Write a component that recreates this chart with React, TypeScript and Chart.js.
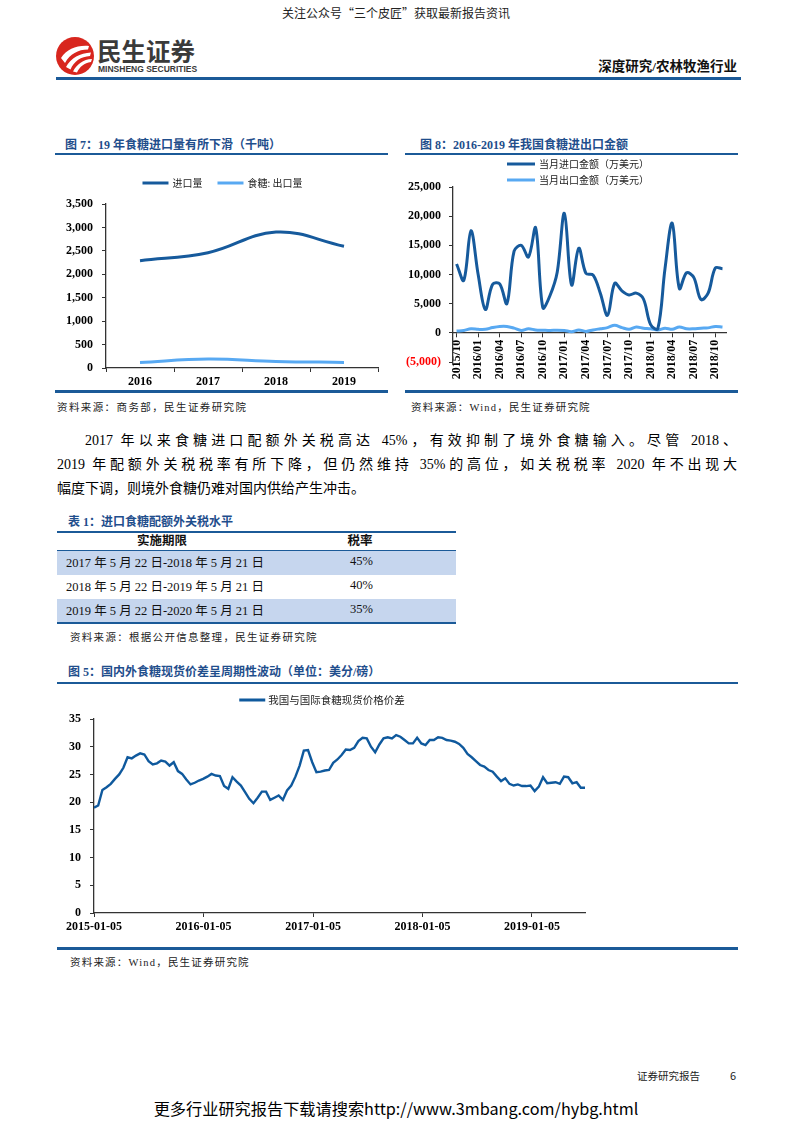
import React, { useEffect, useRef } from "react";
import { Chart, registerables } from "chart.js";

Chart.register(...registerables);

const SERIF = '"Liberation Serif", "Times New Roman", "Noto Sans CJK SC", serif';
const SANS = '"Noto Sans CJK SC", "Liberation Sans", sans-serif';
const CJK = '"Noto Sans CJK SC", sans-serif';

const RULE_BLUE = "#1b5a98";
const TITLE_BLUE = "#1f4e8c";
const DARK_LINE = "#165a9c";
const LIGHT_LINE = "#58a9f2";
const AXIS = "#333333";

// ---------- Figure 7 ----------
const fig7Years = ["2016", "2017", "2018", "2019"];
const fig7Import = [2290, 2460, 2900, 2600];
const fig7Export = [120, 190, 140, 120];

// ---------- Figure 8 ----------
const fig8Months = [
  "2015/10", "2015/11", "2015/12",
  "2016/01", "2016/02", "2016/03", "2016/04", "2016/05", "2016/06",
  "2016/07", "2016/08", "2016/09", "2016/10", "2016/11", "2016/12",
  "2017/01", "2017/02", "2017/03", "2017/04", "2017/05", "2017/06",
  "2017/07", "2017/08", "2017/09", "2017/10", "2017/11", "2017/12",
  "2018/01", "2018/02", "2018/03", "2018/04", "2018/05", "2018/06",
  "2018/07", "2018/08", "2018/09", "2018/10", "2018/11",
];
const fig8Import = [
  11800, 9000, 17500, 10000, 4000, 8300, 8400, 5000, 14000, 15000,
  13000, 18000, 4300, 6400, 10400, 20500, 8200, 14500, 10200, 9900,
  6800, 3000, 8500, 7200, 6500, 6800, 5800, 1400, 700, 11000,
  18800, 7600, 10300, 9500, 5700, 6800, 11100, 11000,
];
const fig8Export = [
  300, 400, 700, 600, 600, 900, 1100, 1100, 800, 400,
  700, 500, 450, 400, 450, 400, 200, 500, 250, 500,
  700, 900, 1300, 900, 600, 1000, 800, 700, 500, 800,
  600, 1000, 700, 700, 800, 850, 1100, 1000,
];

// ---------- Figure 5 ----------
const fig5Start = "2015-01-05";
const fig5StepDays = 14;
const fig5TickDates = ["2015-01-05", "2016-01-05", "2017-01-05", "2018-01-05", "2019-01-05"];
const fig5Values = [
  19.0, 19.4, 22.2, 22.7, 23.3, 24.2, 25.0, 26.2, 28.1, 27.9,
  28.4, 28.8, 28.6, 27.4, 26.8, 27.0, 27.5, 27.3, 26.6, 27.2,
  25.6, 25.1, 24.1, 23.2, 23.5, 23.9, 24.2, 24.6, 25.1, 24.8,
  24.7, 22.9, 22.4, 24.5, 23.7, 23.0, 21.8, 20.6, 19.8, 20.8,
  21.9, 21.9, 20.4, 20.8, 21.2, 20.4, 22.1, 23.0, 24.6, 26.6,
  29.3, 29.4, 27.2, 25.4, 25.5, 25.7, 25.8, 27.1, 27.7, 28.5,
  29.5, 29.4, 29.8, 31.0, 31.6, 31.5, 30.0, 29.0, 30.4, 31.5,
  31.7, 31.5, 32.1, 31.8, 31.2, 30.6, 30.6, 31.6, 30.6, 30.3,
  31.2, 31.2, 31.7, 31.6, 31.2, 31.1, 30.9, 30.5, 29.8, 28.7,
  28.1, 27.4, 26.7, 26.4, 25.8, 25.5, 24.6, 23.8, 24.3, 23.3,
  23.0, 23.2, 22.9, 22.9, 23.0, 22.0, 22.8, 24.5, 23.4, 23.5,
  23.6, 23.3, 24.6, 24.5, 23.4, 23.6, 22.6, 22.6,
];

// ---------- Table 1 ----------
const tableHeader = ["实施期限", "税率"];
const tablePeriods = [
  "2017 年 5 月 22 日-2018 年 5 月 21 日",
  "2018 年 5 月 22 日-2019 年 5 月 21 日",
  "2019 年 5 月 22 日-2020 年 5 月 21 日",
];
const tableRates = ["45%", "40%", "35%"];

const dayOf = (s: string) => {
  const [y, m, d] = s.split("-").map(Number);
  const [y0, m0, d0] = fig5Start.split("-").map(Number);
  return Math.round((Date.UTC(y, m - 1, d) - Date.UTC(y0, m0 - 1, d0)) / 86400000);
};
const fig5TickDays = fig5TickDates.map(dayOf);

const fmt = (v: number) => Number(v).toLocaleString("en-US");

const tickFont = { family: SERIF, size: 12, weight: "bold" as const };

// custom legend: short line sample + label, drawn on the chart canvas
const lineLegend = {
  id: "lineLegend",
  afterDraw(chart: any, _args: any, opts: any) {
    if (!opts || opts.y === undefined) return;
    const ctx = chart.ctx;
    const dss = chart.data.datasets;
    ctx.save();
    ctx.font = opts.font;
    ctx.textBaseline = "middle";
    ctx.textAlign = "left";
    const sw = opts.sample;
    const gap = opts.gap;
    const drawItem = (ds: any, x: number, y: number) => {
      ctx.strokeStyle = ds.borderColor;
      ctx.lineWidth = opts.lineWidth;
      ctx.lineCap = "butt";
      ctx.beginPath();
      ctx.moveTo(x, y);
      ctx.lineTo(x + sw, y);
      ctx.stroke();
      ctx.fillStyle = opts.color;
      ctx.fillText(ds.label, x + sw + gap, y + 0.5);
    };
    if (opts.column) {
      dss.forEach((ds: any, i: number) => drawItem(ds, opts.x, opts.y + i * opts.rowGap));
    } else {
      const widths = dss.map((ds: any) => sw + gap + ctx.measureText(ds.label).width);
      const total = widths.reduce((a: number, b: number) => a + b, 0) + opts.itemGap * (dss.length - 1);
      let x = opts.cx - total / 2;
      dss.forEach((ds: any, i: number) => {
        drawItem(ds, x, opts.y);
        x += widths[i] + opts.itemGap;
      });
    }
    ctx.restore();
  },
};

function makeFig7(): any {
  return {
    type: "line",
    data: {
      labels: fig7Years,
      datasets: [
        { label: "进口量", data: fig7Import, borderColor: DARK_LINE, borderWidth: 3, pointRadius: 0, tension: 0.4, fill: false },
        { label: "食糖: 出口量", data: fig7Export, borderColor: LIGHT_LINE, borderWidth: 3, pointRadius: 0, tension: 0.4, fill: false },
      ],
    },
    options: {
      responsive: false,
      animation: false,
      layout: { padding: { top: 44, right: 12, bottom: 0, left: 0 } },
      plugins: {
        legend: { display: false },
        tooltip: { enabled: false },
        lineLegend: { y: 23, cx: 167.5, sample: 26, gap: 4, itemGap: 15, lineWidth: 3, font: `10px ${CJK}`, color: "#222" },
      },
      scales: {
        x: {
          offset: true,
          grid: { offset: true, drawOnChartArea: false, drawTicks: true, tickLength: 4, color: AXIS },
          border: { display: true, color: AXIS, width: 1.3 },
          ticks: { font: tickFont, color: "#000", padding: 3 },
          afterFit: (s: any) => { s.height = 22; },
        },
        y: {
          min: 0,
          max: 3500,
          ticks: { stepSize: 500, callback: (v: any) => fmt(v), font: tickFont, color: "#000", padding: 9 },
          grid: { drawOnChartArea: false, drawTicks: true, tickLength: 4, color: AXIS },
          border: { display: true, color: AXIS, width: 1.3 },
          afterFit: (s: any) => { s.width = 51; },
        },
      },
    },
    plugins: [lineLegend],
  };
}

function makeFig8(): any {
  return {
    type: "line",
    data: {
      labels: fig8Months,
      datasets: [
        { label: "当月进口金额（万美元）", data: fig8Import, borderColor: DARK_LINE, borderWidth: 3, pointRadius: 0, tension: 0.35, fill: false },
        { label: "当月出口金额（万美元）", data: fig8Export, borderColor: LIGHT_LINE, borderWidth: 3, pointRadius: 0, tension: 0.35, fill: false },
      ],
    },
    options: {
      responsive: false,
      animation: false,
      layout: { padding: { top: 32, right: 8, bottom: 25, left: 0 } },
      plugins: {
        legend: { display: false },
        tooltip: { enabled: false },
        lineLegend: { column: true, x: 107, y: 9, rowGap: 16, sample: 28, gap: 4, lineWidth: 3, font: `10px ${CJK}`, color: "#222" },
      },
      scales: {
        x: {
          position: { y: 0 },
          offset: true,
          grid: {
            drawOnChartArea: false,
            drawTicks: true,
            tickLength: 4,
            color: (c: any) => (c.index % 3 === 0 ? AXIS : "rgba(0,0,0,0)"),
          },
          border: { display: true, color: AXIS, width: 1.3 },
          ticks: {
            autoSkip: false,
            minRotation: 90,
            maxRotation: 90,
            font: tickFont,
            color: "#000",
            padding: 3,
            callback: (_v: any, i: number) => (i % 3 === 0 ? fig8Months[i] : ""),
          },
          afterFit: (s: any) => { s.height = 0; },
        },
        y: {
          min: -5000,
          max: 25000,
          ticks: {
            stepSize: 5000,
            font: tickFont,
            padding: 8,
            color: (c: any) => (c.tick && c.tick.value < 0 ? "#ff0000" : "#000"),
            callback: (v: any) => (v < 0 ? `(${fmt(-v)})` : fmt(v)),
          },
          grid: { drawOnChartArea: false, drawTicks: true, tickLength: 4, color: AXIS },
          border: { display: true, color: AXIS, width: 1.3 },
          afterFit: (s: any) => { s.width = 53; },
        },
      },
    },
    plugins: [lineLegend],
  };
}

function makeFig5(): any {
  const points = fig5Values.map((v, i) => ({ x: i * fig5StepDays, y: v }));
  return {
    type: "line",
    data: {
      datasets: [
        { label: "我国与国际食糖现货价格价差", data: points, borderColor: "#0f599d", borderWidth: 2.4, pointRadius: 0, tension: 0, fill: false },
      ],
    },
    options: {
      responsive: false,
      animation: false,
      layout: { padding: { top: 29, right: 10, bottom: 0, left: 0 } },
      plugins: {
        legend: { display: false },
        tooltip: { enabled: false },
        lineLegend: { y: 10, cx: 267, sample: 26, gap: 3, itemGap: 10, lineWidth: 3, font: `10.5px ${CJK}`, color: "#222" },
      },
      scales: {
        x: {
          type: "linear",
          min: 0,
          max: (fig5Values.length - 1) * fig5StepDays,
          afterBuildTicks: (s: any) => { s.ticks = fig5TickDays.map((d) => ({ value: d })); },
          grid: { drawOnChartArea: false, drawTicks: true, tickLength: 4, color: AXIS },
          border: { display: true, color: AXIS, width: 1.3 },
          ticks: {
            font: tickFont,
            color: "#000",
            padding: 3,
            maxRotation: 0,
            autoSkip: false,
            callback: (v: any) => {
              const i = fig5TickDays.indexOf(Math.round(v));
              return i >= 0 ? fig5TickDates[i] : "";
            },
          },
          afterFit: (s: any) => { s.height = 27; },
        },
        y: {
          min: 0,
          max: 35,
          ticks: { stepSize: 5, font: tickFont, color: "#000", padding: 9 },
          grid: { drawOnChartArea: false, drawTicks: true, tickLength: 4, color: AXIS },
          border: { display: true, color: AXIS, width: 1.3 },
          afterFit: (s: any) => { s.width = 39; },
        },
      },
    },
    plugins: [lineLegend],
  };
}

function ChartBox(props: { left: number; top: number; width: number; height: number; make: () => any }) {
  const ref = useRef<HTMLCanvasElement>(null);
  useEffect(() => {
    const chart = new Chart(ref.current as HTMLCanvasElement, props.make());
    return () => chart.destroy();
  }, []);
  return (
    <canvas
      ref={ref}
      width={props.width}
      height={props.height}
      style={{ position: "absolute", left: props.left, top: props.top, width: props.width, height: props.height }}
    />
  );
}

type TP = {
  x: number; cy: number; size: number; text: string; family?: string; weight?: any;
  color?: string; align?: "left" | "center" | "right"; ls?: number;
};
function Txt(p: TP) {
  const lh = Math.round(p.size * 1.4);
  const style: any = {
    position: "absolute",
    top: p.cy - lh / 2,
    height: lh,
    lineHeight: lh + "px",
    fontSize: p.size,
    fontFamily: p.family || SERIF,
    fontWeight: p.weight || "normal",
    color: p.color || "#000",
    whiteSpace: "nowrap",
    letterSpacing: p.ls ? p.ls + "px" : undefined,
  };
  if (p.align === "center") {
    style.left = p.x - 300; style.width = 600; style.textAlign = "center";
  } else if (p.align === "right") {
    style.left = p.x - 600; style.width = 600; style.textAlign = "right";
  } else {
    style.left = p.x;
  }
  return <div style={style}>{p.text}</div>;
}

function Rule(p: { x: number; y: number; w: number; h: number; c?: string }) {
  return <div style={{ position: "absolute", left: p.x, top: p.y, width: p.w, height: p.h, background: p.c || RULE_BLUE }} />;
}

function JLine(p: { x: number; cy: number; w: number; text: string; justify: boolean }) {
  return (
    <div
      style={{
        position: "absolute",
        left: p.x,
        top: p.cy - 12,
        width: p.w,
        height: 24,
        lineHeight: "24px",
        fontSize: 14,
        fontFamily: SERIF,
        color: "#000",
        whiteSpace: "nowrap",
        textAlign: p.justify ? "justify" : "left",
        textAlignLast: p.justify ? "justify" : "auto",
      } as any}
    >
      {p.text}
    </div>
  );
}

export default function App() {
  return (
    <div style={{ position: "absolute", left: 0, top: 0, width: 793, height: 1122, background: "#fff", overflow: "hidden" }}>
      {/* header */}
      <Txt x={396} cy={12} size={12} family={SANS} color="#222" align="center" text="关注公众号“三个皮匠”获取最新报告资讯" />
      <svg width="38" height="38" viewBox="0 0 38 38" style={{ position: "absolute", left: 56, top: 37 }}>
        <circle cx="19" cy="19" r="19" fill="#d8261e" />
        <path d="M5 21 C 11 12, 21 8, 33 9 L 32 12.5 C 22 12.5, 14 17, 9 26 Z" fill="#fff" />
        <path d="M10 30 C 15 21, 24 16, 35 15.5 L 34 19 C 25 19.5, 18 24, 14.5 32.5 Z" fill="#fff" />
        <path d="M17 34.5 C 21 27, 27 22.5, 36 22 L 35 25 C 28 26, 24 29.5, 21 35.5 Z" fill="#fff" />
      </svg>
      <Txt x={97} cy={51} size={24.5} family={SANS} weight="bold" color="#3a3a3a" text="民生证券" />
      <Txt x={98} cy={69} size={8.5} family='"Liberation Sans Narrow", "Liberation Sans", sans-serif' weight="bold" color="#3a3a3a" text="MINSHENG SECURITIES" />
      <Txt x={737} cy={66} size={13.5} family={SERIF} weight="bold" color="#111" align="right" text="深度研究/农林牧渔行业" />
      <Rule x={56} y={77} w={685} h={3} />

      {/* figure 7 */}
      <Txt x={65} cy={145} size={12} weight="bold" color={TITLE_BLUE} text="图 7：19 年食糖进口量有所下滑（千吨）" />
      <Rule x={55} y={153} w={333} h={2} />
      <ChartBox left={55} top={160} width={335} height={230} make={makeFig7} />
      <Rule x={55} y={390} w={333} h={2.5} />
      <Txt x={57} cy={407} size={10.5} color="#222" ls={1.4} text="资料来源：商务部，民生证券研究院" />

      {/* figure 8 */}
      <Txt x={420} cy={145} size={12} weight="bold" color={TITLE_BLUE} text="图 8：2016-2019 年我国食糖进出口金额" />
      <Rule x={405} y={153} w={333} h={2} />
      <ChartBox left={400} top={155} width={340} height={232} make={makeFig8} />
      <Rule x={405} y={390} w={333} h={2.5} />
      <Txt x={411} cy={407} size={10.5} color="#222" ls={1.2} text="资料来源：Wind，民生证券研究院" />

      {/* paragraph */}
      <JLine x={85} cy={441} w={652} justify text="2017 年以来食糖进口配额外关税高达 45%，有效抑制了境外食糖输入。尽管 2018、" />
      <JLine x={57} cy={465} w={680} justify text="2019 年配额外关税税率有所下降，但仍然维持 35%的高位，如关税税率 2020 年不出现大" />
      <JLine x={57} cy={489} w={680} justify={false} text="幅度下调，则境外食糖仍难对国内供给产生冲击。" />

      {/* table 1 */}
      <Txt x={68} cy={522} size={12} weight="bold" color={TITLE_BLUE} text="表 1：进口食糖配额外关税水平" />
      <Rule x={57} y={531} w={399} h={1.5} />
      <Txt x={162} cy={541} size={12.5} weight="bold" color="#111" align="center" text={tableHeader[0]} />
      <Txt x={360} cy={541} size={12.5} weight="bold" color="#111" align="center" text={tableHeader[1]} />
      <Rule x={57} y={550} w={399} h={1} />
      <div style={{ position: "absolute", left: 57, top: 551, width: 399, height: 23.5, background: "#c6d6ee" }} />
      <div style={{ position: "absolute", left: 57, top: 598.5, width: 399, height: 23.5, background: "#c6d6ee" }} />
      {tablePeriods.map((t, i) => (
        <Txt key={"p" + i} x={66} cy={562.5 + i * 24} size={12.5} color="#111" text={t} />
      ))}
      {tableRates.map((t, i) => (
        <Txt key={"r" + i} x={350} cy={561 + i * 24} size={12.5} color="#111" text={t} />
      ))}
      <Rule x={57} y={622} w={399} h={1.5} />
      <Txt x={70} cy={637} size={10.5} color="#222" ls={1.3} text="资料来源：根据公开信息整理，民生证券研究院" />

      {/* figure 5 */}
      <Txt x={68} cy={672} size={12} weight="bold" color={TITLE_BLUE} text="图 5：国内外食糖现货价差呈周期性波动（单位：美分/磅）" />
      <Rule x={57} y={682} w={681} h={2} />
      <ChartBox left={55} top={690} width={540} height={250} make={makeFig5} />
      <Rule x={57} y={947} w={681} h={2.5} />
      <Txt x={70} cy={962} size={10.5} color="#222" ls={1.2} text="资料来源：Wind，民生证券研究院" />

      {/* footer */}
      <Txt x={637} cy={1075} size={10.5} family={SANS} color="#222" text="证券研究报告" />
      <Txt x={730} cy={1075} size={11} family={SANS} color="#222" text="6" />
      <Txt x={396} cy={1108} size={16.2} family={SANS} color="#000" align="center" text="更多行业研究报告下载请搜索http://www.3mbang.com/hybg.html" />
    </div>
  );
}
